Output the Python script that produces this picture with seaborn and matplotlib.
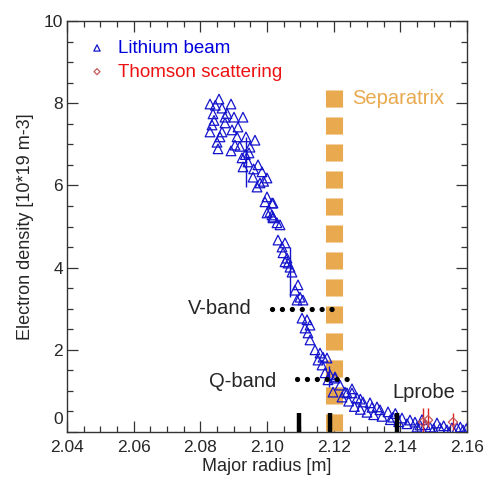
import numpy as np
import pandas as pd
import matplotlib
matplotlib.use("Agg")
import matplotlib.pyplot as plt
from matplotlib.ticker import MultipleLocator, FormatStrFormatter
from matplotlib.transforms import ScaledTranslation
import seaborn as sns

# ---- data ----
li_x = [2.0829, 2.0856, 2.0892, 2.0865, 2.0838, 2.0874, 2.0901, 2.0928, 2.0835, 2.0874,
        2.0913, 2.0829, 2.0865, 2.0859, 2.0910, 2.0937, 2.0964, 2.0853, 2.0892, 2.0904,
        2.0949, 2.0946, 2.0925, 2.0928, 2.0943, 2.0973, 2.0985, 2.1000, 2.0958, 2.0979,
        2.0970, 2.1000, 2.1018, 2.1009, 2.1018,
        2.0845, 2.0880, 2.0841, 2.0895, 2.0850, 2.0918, 2.0935, 2.0960, 2.0990,
        2.0994, 2.1015, 2.1000, 2.1015, 2.1018, 2.1030, 2.1039, 2.1033, 2.1054, 2.1045,
        2.1048, 2.1060, 2.1054, 2.1063, 2.1075, 2.1069, 2.1093, 2.1084, 2.1099, 2.1090,
        2.1108, 2.1105, 2.1120, 2.1129, 2.1114, 2.1123, 2.1129, 2.1144, 2.1159, 2.1168,
        2.1180, 2.1153, 2.1165, 2.1174, 2.1189, 2.1183, 2.1204, 2.1198, 2.1240,
        2.1204, 2.1219, 2.1234, 2.1255, 2.1270, 2.1288, 2.1309, 2.1330, 2.1339, 2.1363,
        2.1378, 2.1405, 2.1429, 2.1444, 2.1459, 2.1489, 2.1519, 2.1540, 2.1570, 2.1588,
        2.1225, 2.1245, 2.1262, 2.1280, 2.1300, 2.1320, 2.1345, 2.1370, 2.1395, 2.1420,
        2.1450, 2.1475, 2.1500, 2.1530, 2.1555, 2.1580, 2.1598, 2.1510, 2.1465, 2.1385,
        2.1315, 2.1280, 2.1255]
li_y = [7.98, 8.10, 7.98, 7.88, 7.74, 7.66, 7.66, 7.66, 7.47, 7.52,
        7.42, 7.30, 7.30, 7.18, 7.18, 7.18, 7.10, 6.89, 6.84, 6.98,
        6.93, 6.79, 6.67, 6.45, 6.57, 6.50, 6.33, 6.18, 6.20, 6.06,
        5.96, 5.72, 5.57, 5.35, 5.23,
        7.95, 7.75, 7.58, 7.35, 7.05, 6.95, 6.75, 6.40, 6.10,
        5.60, 5.57, 5.33, 5.28, 5.21, 5.09, 5.04, 4.67, 4.60, 4.50,
        4.36, 4.23, 4.14, 4.11, 3.89, 4.01, 3.58, 3.45, 3.28, 3.21,
        3.21, 2.77, 2.73, 2.60, 2.53, 2.41, 2.24, 2.00, 1.92, 1.82,
        1.80, 1.75, 1.63, 1.44, 1.39, 1.27, 1.34, 0.97, 0.95,
        1.31, 1.14, 0.97, 0.95, 0.83, 0.73, 0.71, 0.61, 0.54, 0.49,
        0.36, 0.34, 0.29, 0.24, 0.17, 0.12, 0.10, 0.05, 0.10, 0.05,
        0.85, 0.75, 0.62, 0.55, 0.48, 0.42, 0.38, 0.30, 0.25, 0.20,
        0.12, 0.18, 0.08, 0.15, 0.10, 0.12, 0.08, 0.22, 0.30, 0.45,
        0.60, 0.80, 1.05]

li_err_x = [2.0937, 2.1069, 2.1186]
li_err_lo = [5.96, 3.28, 1.10]
li_err_hi = [7.18, 4.50, 1.60]

ts_x = [2.1468, 2.1483, 2.1558]
ts_y = [0.24, 0.29, 0.24]
ts_lo = [0.00, 0.12, 0.05]
ts_hi = [0.58, 0.58, 0.46]

separatrix_r = 2.12
separatrix_top = 8.32
vband_r = [2.1015, 2.1198]
vband_n = 3.0
qband_r = [2.1090, 2.1267]
qband_n = 1.29
probe_r = [2.1096, 2.1189, 2.1390]
probe_h = 0.47

x_ticks = [2.04, 2.06, 2.08, 2.10, 2.12, 2.14, 2.16]
y_ticks = [0, 2, 4, 6, 8, 10]

# ---- style ----
sns.set_style("ticks")
plt.rcParams["font.family"] = ["Liberation Sans", "DejaVu Sans"]

BLUE = "#1414cc"
ORANGE = "#e9a94e"

fig = plt.figure(figsize=(4.85, 4.8), dpi=100)
ax = fig.add_axes([67 / 485, 48 / 480, 400 / 485, 411 / 480])

# separatrix
ax.plot([separatrix_r, separatrix_r], [separatrix_top, 0], color=ORANGE, lw=12.3,
        linestyle=(0, (1.0, 0.58)), solid_capstyle="butt", dash_capstyle="butt", zorder=1)
ax.text(2.1255, 8.12, "Separatrix", color=ORANGE, fontsize=14.5, va="center", ha="left")

# lithium beam
df_li = pd.DataFrame({"r": li_x, "n": li_y})
ax.vlines(li_err_x, li_err_lo, li_err_hi, color=BLUE, lw=1.0, zorder=3)
sns.scatterplot(data=df_li, x="r", y="n", ax=ax, marker="^", s=48,
                facecolors="none", edgecolor=BLUE, linewidth=0.9,
                label="Lithium beam", zorder=3)

# thomson scattering
df_ts = pd.DataFrame({"r": ts_x, "n": ts_y})
ax.vlines(ts_x, ts_lo, ts_hi, color="#dd2222", lw=1.0, zorder=4)
sns.scatterplot(data=df_ts, x="r", y="n", ax=ax, marker="D", s=22,
                facecolors="none", edgecolor="#c85a5a", linewidth=0.9,
                label="Thomson scattering", zorder=4)

# bands
ax.plot(vband_r, [vband_n, vband_n], color="black", lw=3.8,
        linestyle=(0, (0.01, 1.87)), dash_capstyle="round", zorder=5)
ax.plot(qband_r, [qband_n, qband_n], color="black", lw=3.8,
        linestyle=(0, (0.01, 1.87)), dash_capstyle="round", zorder=5)
ax.text(2.0955, 3.0, "V-band", fontsize=14.5, ha="right", va="center")
ax.text(2.1027, 1.22, "Q-band", fontsize=14.5, ha="right", va="center")

# probes
ax.vlines(probe_r, 0, probe_h, color="black", lw=3.2, zorder=5)
ax.text(2.1375, 0.95, "Lprobe", fontsize=14.5, ha="left", va="center")

ax.set_xlim(2.04, 2.16)
ax.set_ylim(0, 10)
ax.set_xticks(x_ticks)
ax.set_yticks(y_ticks)
ax.xaxis.set_major_formatter(FormatStrFormatter("%.2f"))
ax.xaxis.set_minor_locator(MultipleLocator(0.005))
ax.yaxis.set_minor_locator(MultipleLocator(0.5))
ax.tick_params(which="both", direction="in", top=True, right=True, labelsize=12.5,
               color="#333333")
ax.tick_params(axis="x", which="major", pad=6)
ax.tick_params(axis="y", which="major", pad=3)
ax.tick_params(which="major", length=8, width=0.9)
ax.tick_params(which="minor", length=4, width=0.9)
for sp in ax.spines.values():
    sp.set_color("#333333")
    sp.set_linewidth(1.0)

ax.set_xlabel("Major radius [m]", fontsize=13, labelpad=2)
ax.set_ylabel("Electron density [10*19 m-3]", fontsize=13, labelpad=7)

leg = ax.legend(loc="upper left", frameon=False, fontsize=13.5, markerscale=0.65,
                handlelength=1.2, handletextpad=0.5, borderaxespad=0.55,
                labelspacing=0.35, borderpad=0.45,
                labelcolor=["#0000dd", "#ee1111"])

# raise the "0" label a little, as in the reference
fig.canvas.draw()
lbl0 = ax.get_yticklabels()[0]
lbl0.set_transform(lbl0.get_transform() + ScaledTranslation(0, 10 / 72, fig.dpi_scale_trans))

fig.savefig("out.png", dpi=100)
